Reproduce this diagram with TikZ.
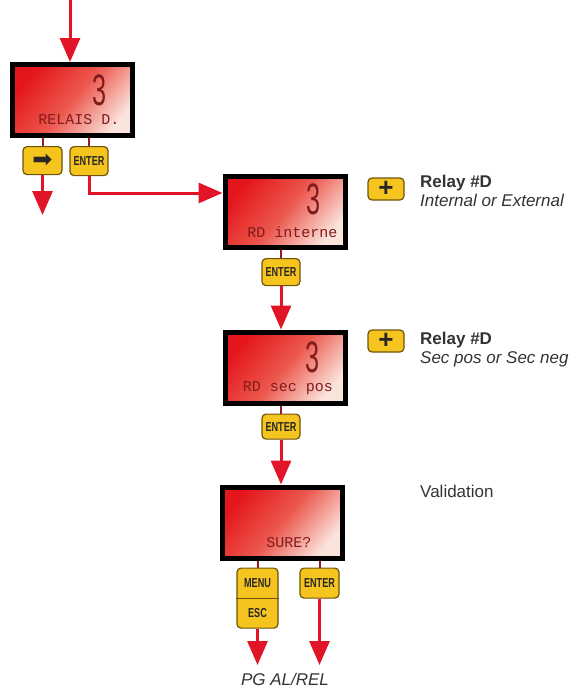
\documentclass[tikz,border=0pt]{standalone}
\usepackage{fontspec}
\setmainfont{Liberation Sans}
\newfontfamily\lcdfont{Liberation Mono}
\newfontfamily\symfont{DejaVu Sans}
\usetikzlibrary{arrows.meta, positioning}

\definecolor{lcdred}{RGB}{228,22,28}
\definecolor{lcdmid}{RGB}{236,88,78}
\definecolor{lcdpale}{RGB}{250,228,220}
\definecolor{lcdink}{RGB}{130,28,28}
\definecolor{keyfill}{RGB}{246,196,30}
\definecolor{keyedge}{RGB}{110,85,10}
\definecolor{flowred}{RGB}{226,20,40}
\definecolor{wirered}{RGB}{150,30,35}

\newcommand{\keytext}[1]{\scalebox{0.7}[1]{\bfseries #1}}
\newcommand{\segdigit}[1]{\scalebox{0.6}[1.05]{#1}}

\begin{document}
\begin{tikzpicture}[
  x=1pt, y=-1pt,
  lcd/.style={rectangle, draw=black, line width=5pt, minimum width=120pt,
              minimum height=71pt, inner sep=0pt,
              left color=lcdred, right color=lcdpale, middle color=lcdmid,
              shading angle=50},
  digit/.style={text=lcdink, font=\fontsize{42}{42}\selectfont, inner sep=0pt},
  lcdline/.style={text=lcdink, font=\lcdfont\fontsize{15}{15}\selectfont, inner sep=0pt},
  key/.style={rectangle, rounded corners=4pt, draw=keyedge, line width=1.2pt,
              fill=keyfill, minimum width=38pt, minimum height=28pt, inner sep=0pt,
              text=black!85, font=\fontsize{13}{13}\selectfont},
  pluskey/.style={key, minimum width=36pt, minimum height=22pt},
  note/.style={font=\fontsize{17}{19}\selectfont, align=left, inner sep=0pt, text=black!80},
  wire/.style={draw=wirered, line width=2pt},
  flow/.style={draw=flowred, line width=3pt, -{Triangle[length=24pt,width=20pt]}}
]
\useasboundingbox (0,0) rectangle (576,688);

% displays
\node[lcd] (d1) at (72.5,100) {};
\node[lcd] (d2) at (285,212) {};
\node[lcd] (d3) at (285,367.5) {};
\node[lcd] (d4) at (282,522.5) {};

\node[digit] (dg1) at ([shift={(27.5,-10)}]d1.center) {\segdigit{3}};
\node[digit] (dg2) at ([shift={(29,-13)}]d2.center) {\segdigit{3}};
\node[digit] (dg3) at ([shift={(28,-10)}]d3.center) {\segdigit{3}};

\node[lcdline] (t1) at ([shift={(6.5,19.5)}]d1.center) {RELAIS D.};
\node[lcdline] (t2) at ([shift={(7.5,20)}]d2.center) {RD interne};
\node[lcdline] (t3) at ([shift={(3,21)}]d3.center) {RD sec pos};
\node[lcdline] (t4) at ([shift={(7,20.5)}]d4.center) {SURE?};

% keys
\node[key, below=8pt of d1, xshift=-30pt, minimum width=39pt] (arwkey) {\symfont\fontsize{24}{24}\selectfont ➡};
\node[key, below=8pt of d1, xshift=16.5pt, minimum height=29pt] (ent1) {\keytext{ENTER}};
\node[key, below=8pt of d2, xshift=-4pt, minimum height=27pt] (ent2) {\keytext{ENTER}};
\node[key, below=8pt of d3, xshift=-4pt, minimum height=25pt] (ent3) {\keytext{ENTER}};
\node[key, below=7pt of d4, xshift=-24.5pt, minimum width=41pt, minimum height=60pt,
      align=center, font=\fontsize{13}{30}\selectfont] (mnu) {\keytext{MENU}\\\keytext{ESC}};
\node[key, below=7pt of d4, xshift=37.5pt, minimum width=39pt, minimum height=30pt] (ent4) {\keytext{ENTER}};
\draw[keyedge, line width=1.2pt] (mnu.west) -- (mnu.east);

\node[pluskey] (plus2) at (386,189) {\bfseries\fontsize{26}{26}\selectfont +};
\node[pluskey] (plus3) at (386,341) {\bfseries\fontsize{26}{26}\selectfont +};

% notes
\node[note, anchor=north west] (rel2) at (420,175) {\textbf{Relay \#D}\\\textit{Internal or External}};
\node[note, anchor=north west] (rel3) at (420,331.5) {\textbf{Relay \#D}\\\textit{Sec pos or Sec neg}};
\node[note, anchor=west] (valid) at (420,491) {Validation};

% connectors
\coordinate (src) at (70,0);
\coordinate (out1) at (42.5,215);
\coordinate (exit) at (288,665);
\node[note, anchor=north] (pgrel) at (285,673) {\textit{PG AL/REL}};

\draw[flow] (src) -- (src |- d1.north);
\draw[wire] (d1.south -| arwkey) -- (arwkey.north);
\draw[flow] (arwkey.south) -- (out1);
\draw[wire] (d1.south -| ent1) -- (ent1.north);
\draw[flow] (ent1.south) |- ([yshift=19pt]d2.west);
\draw[wire] (d2.south -| ent2) -- (ent2.north);
\draw[flow] (ent2.south) -- (ent2.south |- d3.north);
\draw[wire] (d3.south -| ent3) -- (ent3.north);
\draw[flow] (ent3.south) -- (ent3.south |- d4.north);
\draw[wire] (d4.south -| mnu) -- (mnu.north);
\draw[wire] (d4.south -| ent4) -- (ent4.north);
\draw[flow] (mnu.south) -- (mnu.south |- exit);
\draw[flow] (ent4.south) -- (ent4.south |- exit);
\end{tikzpicture}
\end{document}
